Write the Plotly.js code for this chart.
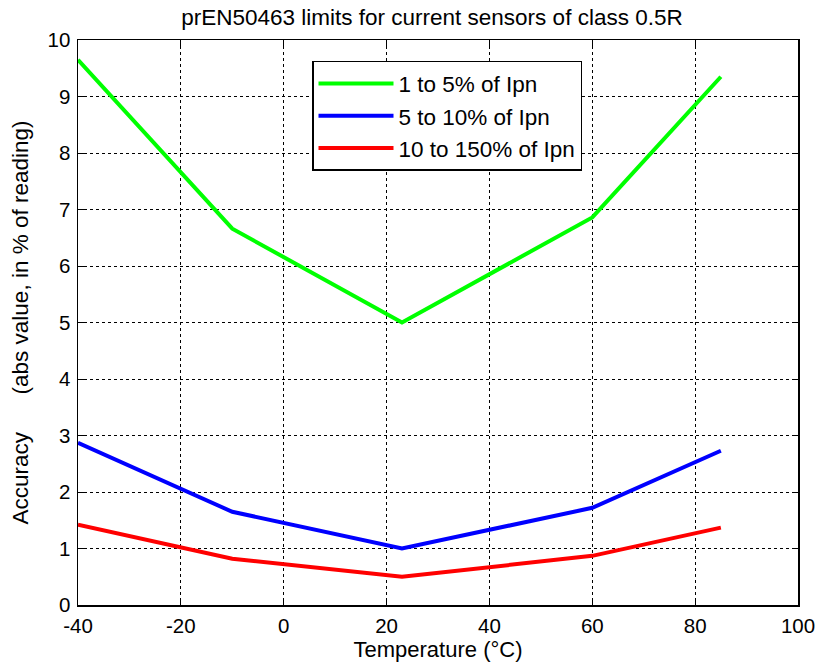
<!DOCTYPE html>
<html>
<head>
<meta charset="utf-8">
<script src="https://cdn.plot.ly/plotly-3.0.1.min.js"></script>
<style>html,body{margin:0;padding:0;background:#fff;}#chart{width:815px;height:667px;}</style>
</head>
<body>
<div id="chart"></div>
<script>
const temperature = [-40, -10, 23, 60, 85];
const limit1to5 = [9.65, 6.66, 5.0, 6.86, 9.35];
const limit5to10 = [2.87, 1.65, 1.0, 1.72, 2.73];
const limit10to150 = [1.42, 0.82, 0.5, 0.87, 1.37];
const seriesNames = ['1 to 5% of Ipn', '5 to 10% of Ipn', '10 to 150% of Ipn'];
const xTicks = [-40, -20, 0, 20, 40, 60, 80, 100];
const yTicks = [0, 1, 2, 3, 4, 5, 6, 7, 8, 9, 10];

const font = 'Arial, "Liberation Sans", Helvetica, sans-serif';
const traces = [
  {x: temperature, y: limit1to5, name: seriesNames[0], mode: 'lines', line: {color: '#00ff00', width: 4}},
  {x: temperature, y: limit5to10, name: seriesNames[1], mode: 'lines', line: {color: '#0000ff', width: 4}},
  {x: temperature, y: limit10to150, name: seriesNames[2], mode: 'lines', line: {color: '#ff0000', width: 4}}
];
const axisCommon = {
  showline: true, linecolor: '#000', linewidth: 1.5, mirror: 'ticks',
  ticks: 'inside', ticklen: 6, tickcolor: '#000', tickwidth: 1,
  showgrid: true, gridcolor: '#000', gridwidth: 1, griddash: 'dot',
  zeroline: false, ticklabeloverflow: 'allow',
  tickfont: {family: font, size: 20.5, color: '#000'}
};
const layout = {
  width: 815, height: 667,
  margin: {l: 78, r: 17, t: 40, b: 62},
  paper_bgcolor: '#fff', plot_bgcolor: '#fff',
  font: {family: font, color: '#000'},
  title: {text: 'prEN50463 limits for current sensors of class 0.5R', font: {family: font, size: 22.5, color: '#000'}, x: 0.53, xanchor: 'center', y: 0.975, yanchor: 'middle'},
  xaxis: Object.assign({}, axisCommon, {
    range: [-40, 100], tickvals: xTicks, ticktext: xTicks.map(String), ticklabelstandoff: 2,
    title: {text: 'Temperature (°C)', font: {family: font, size: 22, color: '#000'}, standoff: 4}
  }),
  yaxis: Object.assign({}, axisCommon, {
    range: [0, 10], tickvals: yTicks, ticktext: yTicks.map(String), ticklabelstandoff: 2,
    title: {text: '\u00a0Accuracy\u00a0\u00a0\u00a0\u00a0\u00a0\u00a0(abs value, in % of reading)', font: {family: font, size: 22.5, color: '#000'}, standoff: 12}
  }),
  showlegend: true,
  legend: {
    x: 0.325, y: 0.963, xanchor: 'left', yanchor: 'top',
    bgcolor: '#fff', bordercolor: '#000', borderwidth: 1.5,
    font: {family: font, size: 22.5, color: '#000'},
    tracegroupgap: 0, itemwidth: 75
  }
};
Plotly.newPlot('chart', traces, layout, {displayModeBar: false, staticPlot: true});
</script>
</body>
</html>
